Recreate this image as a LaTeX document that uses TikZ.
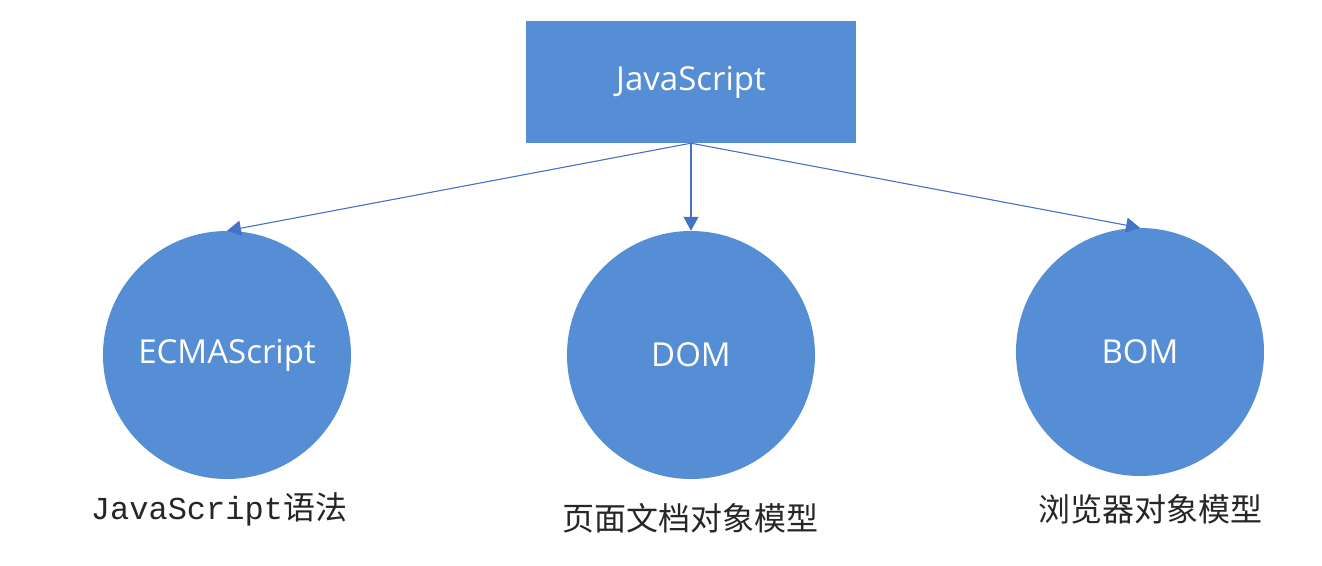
\documentclass[tikz,border=0pt]{standalone}
\usepackage{fontspec}
\setmainfont{Open Sans}
\newfontfamily\cjkfont{Noto Sans CJK SC}
\newfontfamily\codefont{Liberation Mono}
\usetikzlibrary{arrows.meta,positioning,shapes.geometric}
\definecolor{boxblue}{RGB}{85,142,213}
\definecolor{lineblue}{RGB}{68,114,196}
\tikzset{
topbox/.style={fill=boxblue,draw=none,minimum width=330pt,minimum height=122pt,text=white,font=\fontsize{33}{40}\selectfont},
partcircle/.style={circle,fill=boxblue,draw=none,minimum size=248pt,inner sep=0pt,text=white,font=\fontsize{33}{40}\selectfont},
caption/.style={font=\fontsize{32}{38}\selectfont,text=black!85,inner sep=0pt},
link/.style={-{Triangle[length=14pt,width=15pt]},draw=lineblue,line width=1.1pt}
}
\begin{document}
\begin{tikzpicture}[x=1pt,y=-1pt]
\useasboundingbox (0,0) rectangle (1322,565);
\node[topbox](js) at (691,82){JavaScript};
\node[partcircle](ecma) at (227,355){ECMAScript};
\node[partcircle](dom) at (691,355){DOM};
\node[partcircle](bom) at (1140,352){BOM};
\node[caption](ecmacap) at (219,509){{\codefont JavaScript}{\cjkfont 语法}};
\node[caption](domcap) at (690,518){\cjkfont 页面文档对象模型};
\node[caption](bomcap) at (1150,509){\cjkfont 浏览器对象模型};
\draw[link](js.south)--(ecma.north);
\draw[link](js.south)--(dom.north);
\draw[link](js.south)--(bom.north);
\end{tikzpicture}
\end{document}
